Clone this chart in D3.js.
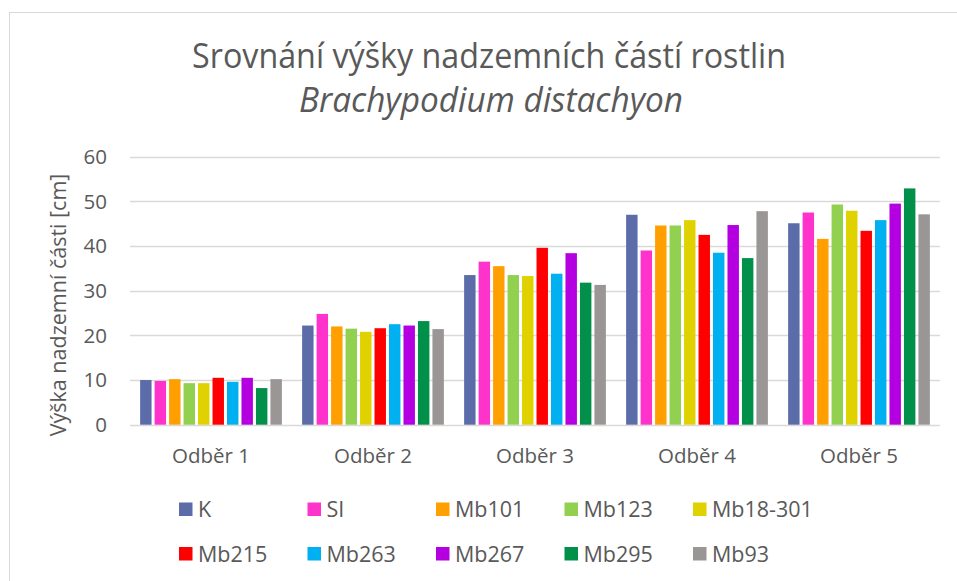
<!DOCTYPE html>
<html>
<head>
<meta charset="utf-8">
<script src="https://cdn.jsdelivr.net/npm/d3@7"></script>
<style>
  body { margin: 0; background: #fff; }
  svg text { font-family: "Open Sans", sans-serif; fill: #595959; }
</style>
</head>
<body>
<svg width="957" height="581"></svg>
<script>
// categories + series names
var categories = ["Odběr 1", "Odběr 2", "Odběr 3", "Odběr 4", "Odběr 5"];
var seriesNames = ["K", "SI", "Mb101", "Mb123", "Mb18-301", "Mb215", "Mb263", "Mb267", "Mb295", "Mb93"];
var seriesColors = ["#5b6ca8", "#ff33cc", "#ffa000", "#92d050", "#e0d200", "#ff0000", "#00b0f0", "#b400e0", "#00904a", "#9a9696"];
var yTicks = [0, 10, 20, 30, 40, 50, 60];

// heights, one array per series (Odběr 1..5)
var K       = [10.0, 22.2, 33.5, 47.0, 45.1];
var SI      = [9.8, 24.8, 36.5, 39.0, 47.5];
var Mb101   = [10.2, 22.0, 35.5, 44.6, 41.6];
var Mb123   = [9.3, 21.5, 33.5, 44.6, 49.3];
var Mb18301 = [9.3, 20.8, 33.3, 45.8, 47.9];
var Mb215   = [10.5, 21.6, 39.6, 42.5, 43.4];
var Mb263   = [9.6, 22.5, 33.8, 38.5, 45.8];
var Mb267   = [10.5, 22.2, 38.4, 44.7, 49.5];
var Mb295   = [8.2, 23.2, 31.8, 37.3, 52.9];
var Mb93    = [10.2, 21.4, 31.3, 47.8, 47.1];

var allValues = [K, SI, Mb101, Mb123, Mb18301, Mb215, Mb263, Mb267, Mb295, Mb93];

var svg = d3.select('svg');

// chart frame
svg.append('rect')
    .attr('x', 9.5).attr('y', 12.5)
    .attr('width', 1000).attr('height', 1000)
    .attr('fill', '#fff')
    .attr('stroke', '#d9d9d9');

var scaleX = d3.scaleBand().domain(categories).range([130, 940])
    .paddingInner(0.125).paddingOuter(0.0625);
var scaleS = d3.scaleBand().domain(seriesNames).range([0, scaleX.bandwidth()])
    .paddingInner(0.21);
var scaleY = d3.scaleLinear().domain([0, 60]).range([424.7, 156.7]);

// gridlines
svg.append('g').selectAll('line')
    .data(yTicks)
    .enter()
    .append('line')
    .attr('x1', 130).attr('x2', 940)
    .attr('y1', function(d){ return Math.round(scaleY(d)) + 0.5; })
    .attr('y2', function(d){ return Math.round(scaleY(d)) + 0.5; })
    .attr('stroke', '#d9d9d9')
    .attr('stroke-width', 1.3);

// y tick labels
svg.append('g').selectAll('text')
    .data(yTicks)
    .enter()
    .append('text')
    .attr('x', 107)
    .attr('y', function(d){ return scaleY(d); })
    .attr('dy', '0.36em')
    .attr('font-size', 20.5)
    .style('text-anchor', 'end')
    .text(function(d){ return d; });

// bars
var groups = svg.append('g').selectAll('g')
    .data(categories)
    .enter()
    .append('g')
    .attr('transform', function(d){ return 'translate(' + scaleX(d) + ',0)'; });

groups.selectAll('rect')
    .data(function(c, ci){
        return seriesNames.map(function(s, si){ return {name: s, value: allValues[si][ci], color: seriesColors[si]}; });
    })
    .enter()
    .append('rect')
    .attr('x', function(d){ return scaleS(d.name); })
    .attr('y', function(d){ return scaleY(d.value); })
    .attr('width', scaleS.bandwidth())
    .attr('height', function(d){ return scaleY(0) - scaleY(d.value); })
    .attr('fill', function(d){ return d.color; });

// category labels
svg.append('g').selectAll('text')
    .data(categories)
    .enter()
    .append('text')
    .attr('x', function(d){ return scaleX(d) + scaleX.bandwidth() / 2; })
    .attr('y', 463)
    .attr('font-size', 20.5)
    .style('text-anchor', 'middle')
    .text(function(d){ return d; });

// y axis title
svg.append('text')
    .text('Výška nadzemní části [cm]')
    .attr('transform', 'translate(66,305) rotate(-90)')
    .attr('font-size', 21.5)
    .style('text-anchor', 'middle');

// title
svg.append('text')
    .text('Srovnání výšky nadzemních částí rostlin')
    .attr('x', 489).attr('y', 68)
    .attr('font-size', 34)
    .attr('textLength', 594)
    .attr('lengthAdjust', 'spacingAndGlyphs')
    .style('text-anchor', 'middle');

svg.append('text')
    .text('Brachypodium distachyon')
    .attr('x', 491).attr('y', 112)
    .attr('font-size', 34)
    .attr('font-style', 'italic')
    .attr('textLength', 384)
    .attr('lengthAdjust', 'spacingAndGlyphs')
    .style('text-anchor', 'middle');

// legend, 2 rows of 5
var legend = svg.append('g').selectAll('g')
    .data(seriesNames)
    .enter()
    .append('g')
    .attr('transform', function(d, i){
        return 'translate(' + (179 + (i % 5) * 128.5) + ',' + (502.5 + Math.floor(i / 5) * 44.5) + ')';
    });

legend.append('rect')
    .attr('width', 13.5).attr('height', 13.5)
    .attr('fill', function(d, i){ return seriesColors[i]; });

legend.append('text')
    .attr('x', 19).attr('y', 14.5)
    .attr('font-size', 21.5)
    .text(function(d){ return d; });
</script>
</body>
</html>
